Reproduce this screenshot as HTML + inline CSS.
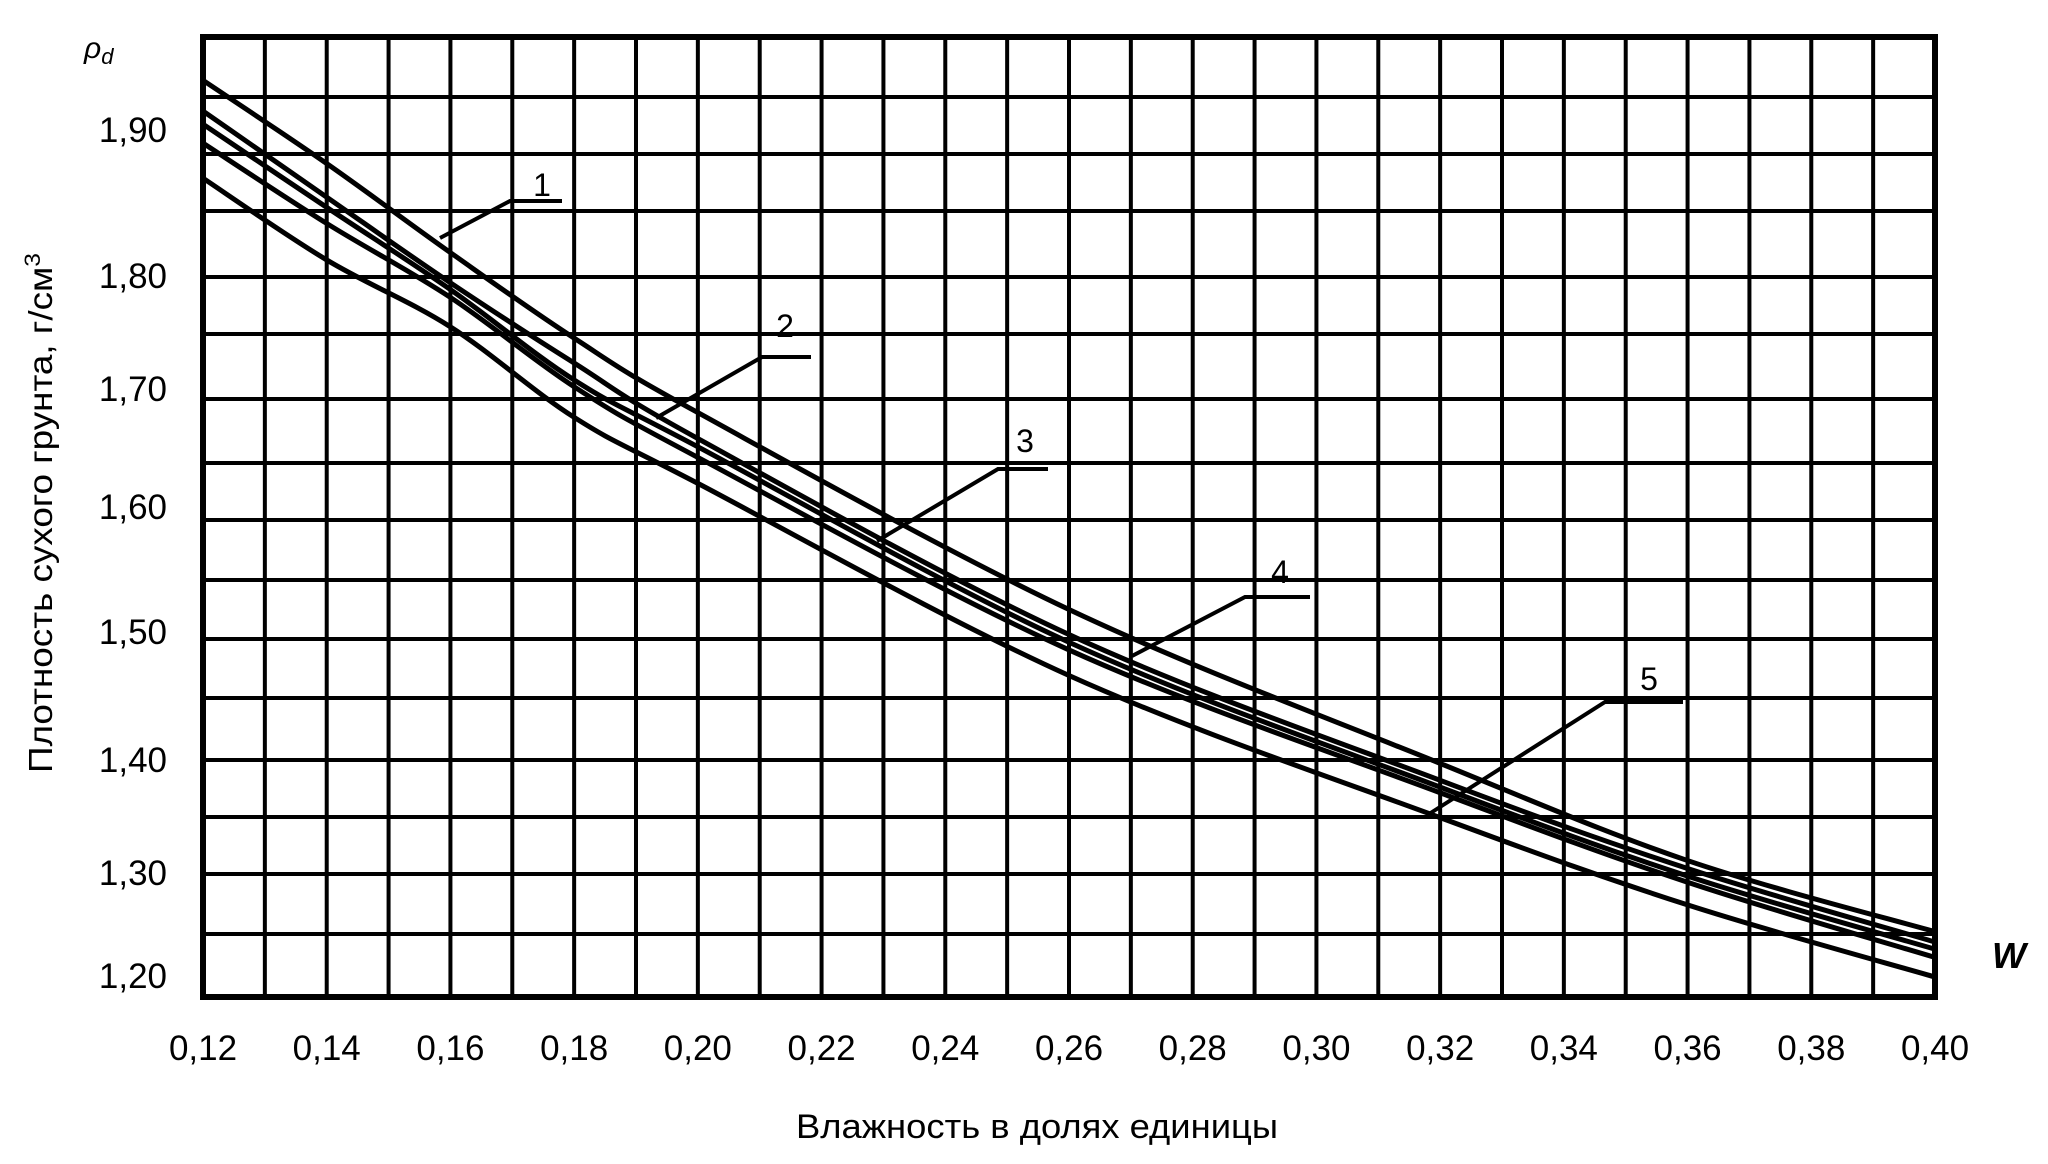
<!DOCTYPE html>
<html><head><meta charset="utf-8"><style>
html,body{margin:0;padding:0;background:#fff;}
svg{display:block;}
text{font-family:"Liberation Sans",sans-serif;fill:#000;}
</style></head><body>
<svg id="chart" width="2048" height="1164" viewBox="0 0 2048 1164" xmlns="http://www.w3.org/2000/svg">
<g id="grid"></g>
<g id="curves"></g>
<g id="axes"></g>
<g id="labels"></g>
<text x="84" y="58" font-size="30" font-style="italic" font-family="Liberation Serif, serif">ρ<tspan font-size="22" dy="6">d</tspan></text>
<text x="1992" y="968" font-size="36" font-style="italic" font-weight="bold" font-family="Liberation Serif, serif">W</text>
<text transform="translate(52,513) rotate(-90)" text-anchor="middle" font-size="33" textLength="520" lengthAdjust="spacingAndGlyphs">Плотность сухого грунта, г/см<tspan font-size="22" dy="-12">3</tspan></text>
<text x="1037" y="1138" text-anchor="middle" font-size="34" textLength="482" lengthAdjust="spacingAndGlyphs">Влажность в долях единицы</text>
</svg>
<script>
// data
const xTicks = [0.12,0.14,0.16,0.18,0.20,0.22,0.24,0.26,0.28,0.30,0.32,0.34,0.36,0.38,0.40];
const xTickLabels = ["0,12","0,14","0,16","0,18","0,20","0,22","0,24","0,26","0,28","0,30","0,32","0,34","0,36","0,38","0,40"];
const yTicks = [1.90,1.80,1.70,1.60,1.50,1.40,1.30,1.20];
const yTickLabels = ["1,90","1,80","1,70","1,60","1,50","1,40","1,30","1,20"];
const wValues = [0.12,0.14,0.16,0.18,0.20,0.26,0.32,0.36,0.40];
const curve1 = [1.934,1.877,1.816,1.745,1.680,1.518,1.397,1.311,1.243];
const curve2 = [1.913,1.854,1.794,1.723,1.658,1.498,1.382,1.304,1.233];
const curve3 = [1.904,1.847,1.788,1.708,1.651,1.492,1.376,1.297,1.226];
const curve4 = [1.891,1.836,1.781,1.702,1.642,1.486,1.371,1.291,1.218];
const curve5 = [1.867,1.811,1.755,1.676,1.620,1.466,1.349,1.269,1.199];
const curveNames = ["1","2","3","4","5"];

// layout (scanned chart with non-uniform y axis)
const X0=203, X1=1935, Y0=37, Y1=997;
const yAnchorVals=[1.90,1.80,1.70,1.60,1.50,1.40,1.30,1.20];
const yAnchorPix=[130,276,389,507,632,760,873,976];
const gridY=[37,97,154,211,277,334,399,463,520,580,639,698,760,817,874,934,997];
function xs(v){return X0+(v-0.12)/(0.40-0.12)*(X1-X0);}
function ys(v){
  const a=yAnchorVals,p=yAnchorPix;
  if(v>=a[0]) return p[0]-(v-a[0])*(p[1]-p[0])/(a[0]-a[1]);
  for(let i=0;i<a.length-1;i++){ if(v<=a[i]&&v>=a[i+1]) return p[i]+(a[i]-v)/(a[i]-a[i+1])*(p[i+1]-p[i]); }
  const n=a.length-1; return p[n]+(a[n]-v)*(p[n]-p[n-1])/(a[n-1]-a[n]);
}
const NS="http://www.w3.org/2000/svg";
function mk(tag,attrs,parent){const e=document.createElementNS(NS,tag);for(const k in attrs)e.setAttribute(k,attrs[k]);parent.appendChild(e);return e;}
const grid=document.getElementById('grid'),axes=document.getElementById('axes'),cv=document.getElementById('curves'),lb=document.getElementById('labels');
for(let i=1;i<28;i++){
  const x=xs(0.12+i*0.01);
  const l=mk('line',{x1:x,y1:Y0,x2:x,y2:Y1,stroke:'#000','stroke-width':4},grid);
  
  
}
for(let i=1;i<gridY.length-1;i++){
  const l=mk('line',{x1:X0,y1:gridY[i],x2:X1,y2:gridY[i],stroke:'#000','stroke-width':4},grid);
  
  
}
const fr=mk('rect',{x:X0,y:Y0,width:X1-X0,height:Y1-Y0,fill:'none',stroke:'#000','stroke-width':6},axes);


xTicks.forEach((v,i)=>{
  const t=mk('text',{x:xs(v),y:1060,'text-anchor':'middle','font-size':35},axes);
  t.textContent=xTickLabels[i];
  
  
});
yTicks.forEach((v,i)=>{
  const t=mk('text',{x:167,y:ys(v)+12,'text-anchor':'end','font-size':35},axes);
  t.textContent=yTickLabels[i];
  
  
});
const series=[curve1,curve2,curve3,curve4,curve5];
series.forEach((s,k)=>{
  const pts=wValues.map((w,i)=>[xs(w),ys(s[i])]);
  let d='M'+pts[0][0]+','+pts[0][1];
  for(let i=0;i<pts.length-1;i++){
    const p0=pts[Math.max(0,i-1)],p1=pts[i],p2=pts[i+1],p3=pts[Math.min(pts.length-1,i+2)];
    const c1x=p1[0]+(p2[0]-p0[0])/6,c1y=p1[1]+(p2[1]-p0[1])/6,c2x=p2[0]-(p3[0]-p1[0])/6,c2y=p2[1]-(p3[1]-p1[1])/6;
    d+=' C'+c1x+','+c1y+' '+c2x+','+c2y+' '+p2[0]+','+p2[1];
  }
  const p=mk('path',{d:d,fill:'none',stroke:'#000','stroke-width':5},cv);
  
  
});
const leaders=[
  {t:[542,196],p:[[440,238],[510,201],[562,201]]},
  {t:[785,337],p:[[656,418],[762,357],[811,357]]},
  {t:[1025,452],p:[[877,541],[998,469],[1048,469]]},
  {t:[1280,583],p:[[1132,656],[1245,597],[1310,597]]},
  {t:[1649,690],p:[[1429,814],[1605,702],[1683,702]]}
];
leaders.forEach((o,k)=>{
  const pl=mk('polyline',{points:o.p.map(q=>q.join(',')).join(' '),fill:'none',stroke:'#000','stroke-width':4},lb);
  
  
  const t=mk('text',{x:o.t[0],y:o.t[1],'text-anchor':'middle','font-size':32},lb);
  t.textContent=curveNames[k];
  
  
});
</script>
</body></html>
